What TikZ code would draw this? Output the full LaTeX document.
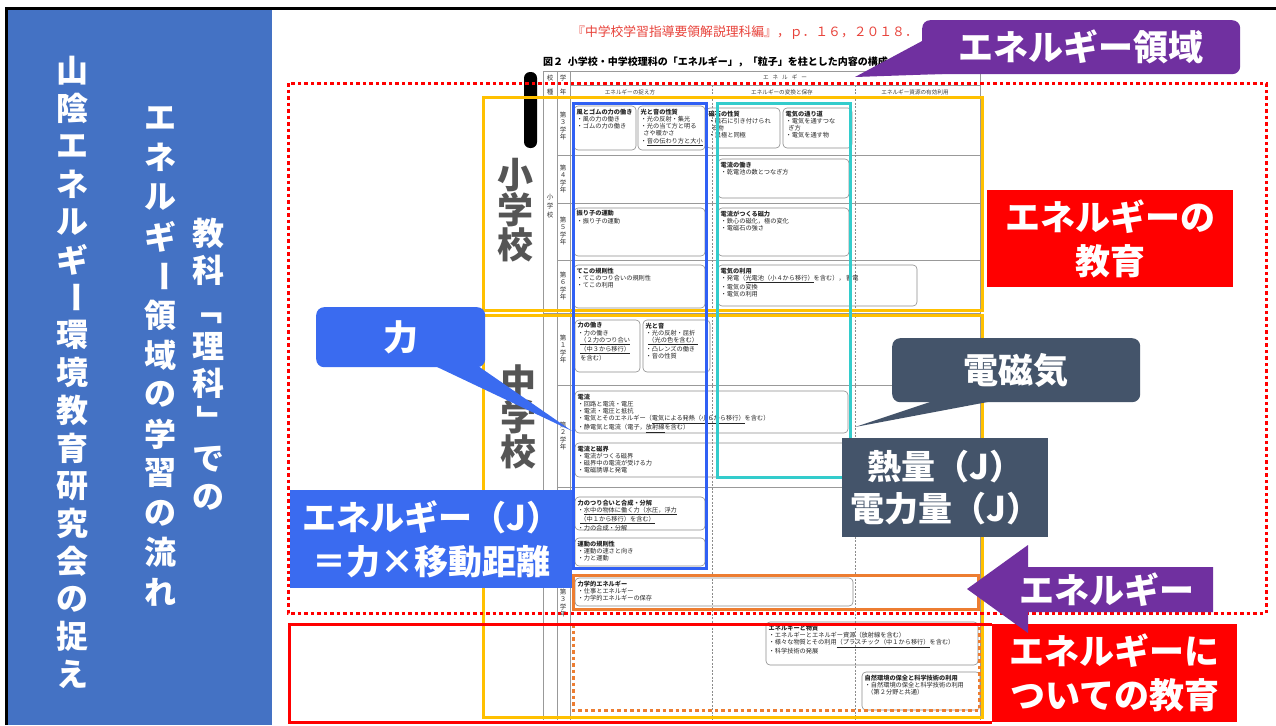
\documentclass[tikz,border=0pt]{standalone}
\usepackage{fontspec}
\setmainfont{Noto Sans CJK JP}
\usetikzlibrary{calc}
\definecolor{panelblue}{HTML}{4472C4}
\definecolor{ybox}{HTML}{FFC000}
\definecolor{bline}{HTML}{3060F4}
\definecolor{cblue}{HTML}{3A6BF0}
\definecolor{cyanl}{HTML}{33CCCC}
\definecolor{oline}{HTML}{ED7D31}
\definecolor{rline}{HTML}{FF0000}
\definecolor{purp}{HTML}{7030A0}
\definecolor{slate}{HTML}{44546A}
\definecolor{bigg}{HTML}{555555}
\definecolor{citered}{HTML}{E8423A}
\newcommand{\vbar}{\rotatebox[origin=c]{-90}{ー}}
\newcommand{\vlb}{\rotatebox[origin=c]{-90}{「}}
\newcommand{\vrb}{\rotatebox[origin=c]{-90}{」}}
\newcommand{\cellbx}[6]{\draw[cellbox] (#2,#3) rectangle (#4,#5); \node[celltext] (#1) at ({#2+2.5},{#3+2.5}) {#6};}
\tikzset{
  cellbox/.style={draw=black!45, line width=0.6pt, rounded corners=4pt},
  celltext/.style={anchor=north west, inner sep=0pt, align=left, font=\fontsize{6.2}{7.3}\selectfont, text=black!85},
  gridl/.style={draw=black!40, line width=0.6pt},
  dgridl/.style={draw=black!45, line width=0.6pt, dash pattern=on 2pt off 1.5pt},
  vch/.style={inner sep=0pt, font=\fontsize{32}{32}\selectfont\bfseries, text=white},
  smallv/.style={inner sep=0pt, font=\fontsize{6.5}{7}\selectfont, text=black!80},
  bigv/.style={inner sep=0pt, font=\fontsize{36}{36}\selectfont\bfseries, text=bigg},
  hdr/.style={inner sep=0pt, font=\fontsize{5.6}{6}\selectfont, text=black!75},
  callout/.style={inner sep=0pt, text=white, font=\fontsize{35}{44}\selectfont\bfseries, align=center, anchor=north west},
  framey/.style={draw=ybox, line width=3pt},
}
\begin{document}
\begin{tikzpicture}[x=1pt,y=-1pt]
\useasboundingbox (0,0) rectangle (1276,725);
\fill[white] (0,0) rectangle (1276,725);
% left panel
\fill[panelblue] (8,10) rectangle (272,725);
\draw[black, line width=3pt] (6,725) -- (6,8.5) -- (1276,8.5);
\foreach \ch [count=\k from 0] in {山,陰,エ,ネ,ル,ギ,\vbar,環,境,教,育,研,究,会,の,捉,え}
  {\node[vch] (ca-\k) at (72,{71+\k*37.7}) {\ch};}
\foreach \ch [count=\k from 0] in {エ,ネ,ル,ギ,\vbar,領,域,の,学,習,の,流,れ}
  {\node[vch] (cb-\k) at (160,{118+\k*39.5}) {\ch};}
\foreach \ch [count=\k from 0] in {教,科,\vlb,理,科,\vrb,で,の}
  {\node[vch] (cc-\k) at (208,{233+\k*37.7}) {\ch};}
% citation and caption
\node[inner sep=0, text=citered, font=\fontsize{12.8}{13}\selectfont] (cite) at (745,33) {『中学校学習指導要領解説理科編』，ｐ．１６，２０１８．};
\node[inner sep=0, anchor=west, font=\fontsize{10}{10}\selectfont\bfseries] (cap) at (543,62) {図２\ \ 小学校・中学校理科の「エネルギー」，「粒子」を柱とした内容の構成};
% table grid
\draw[gridl] (543,71) -- (980,71);
\draw[gridl] (543,71) -- (543,720);
\draw[gridl] (557,71) -- (557,720);
\draw[gridl] (570,71) -- (570,720);
\draw[gridl] (980,71) -- (980,720);
\draw[gridl] (570,85) -- (980,85);
\draw[gridl] (543,97) -- (980,97);
\draw[gridl] (543,313) -- (980,313);
\foreach \yy in {155,203,260,385,487} {\draw[gridl] (557,\yy) -- (980,\yy);}
\draw[dgridl] (712,85) -- (712,720);
\draw[dgridl] (855,85) -- (855,720);
\node[hdr] (h0) at (785,77) {エ\hspace{4pt}ネ\hspace{4pt}ル\hspace{4pt}ギ\hspace{4pt}ー};
\node[hdr] (h1) at (630,92) {エネルギーの捉え方};
\node[hdr] (h2) at (782,92) {エネルギーの変換と保存};
\node[hdr] (h3) at (915,92) {エネルギー資源の有効利用};
\node[smallv] (hk1) at (550,78) {校};
\node[smallv] (hk2) at (550,92) {種};
\node[smallv] (hg1) at (563,78) {学};
\node[smallv] (hg2) at (563,92) {年};
\foreach \ch [count=\k from 0] in {小,学,校} {\node[smallv] (se-\k) at (550,{197+\k*9}) {\ch};}
\foreach \cy/\g [count=\r] in {126/３,179/４,231/５,286/６,349/１,436/２,603/３}{
  \foreach \ch [count=\k from 0] in {第,\g,学,年} {\node[smallv] (gl-\r-\k) at (563,{\cy-11.25+\k*7.5}) {\ch};}
}
% big school labels
\fill[black, rounded corners=6pt] (524,72) rectangle (537,148);
\foreach \ch [count=\k from 0] in {小,学,校} {\node[bigv] (bs-\k) at (515,{175+\k*35}) {\ch};}
\foreach \ch [count=\k from 0] in {中,学,校} {\node[bigv] (bj-\k) at (518,{382+\k*35}) {\ch};}
% cells
\cellbx{c1}{574}{106}{636}{150}{\textbf{風とゴムの力の働き}\\・風の力の働き\\・ゴムの力の働き}
\cellbx{c2}{638}{106}{705}{150}{\textbf{光と音の性質}\\・光の反射・集光\\・光の当て方と明る\\\ \ さや暖かさ\\・\underline{音の伝わり方と大小}}
\cellbx{c3}{706}{108}{780}{148}{\textbf{磁石の性質}\\・磁石に引き付けられ\\\ \ る物\\・異極と同極}
\cellbx{c4}{783}{108}{852}{148}{\textbf{電気の通り道}\\・電気を通すつな\\\ \ ぎ方\\・電気を通す物}
\cellbx{c5}{718}{159}{849}{198}{\textbf{電流の働き}\\・乾電池の数とつなぎ方}
\cellbx{c6}{574}{208}{705}{256}{\textbf{振り子の運動}\\・振り子の運動}
\cellbx{c7}{718}{208}{849}{256}{\textbf{電流がつくる磁力}\\・鉄心の磁化，極の変化\\・電磁石の強さ}
\cellbx{c8}{574}{265}{705}{308}{\textbf{てこの規則性}\\・てこのつり合いの規則性\\・てこの利用}
\cellbx{c9}{718}{265}{917}{306}{\textbf{電気の利用}\\・発電（\underline{光電池（小４から移行）}を含む），\ 蓄電\\・電気の変換\\・電気の利用}
\cellbx{c10}{575}{320}{640}{372}{\textbf{力の働き}\\・力の働き\\\ \ \underline{（２力のつり合い}\\\ \ \underline{（中３から移行）}\\\ \ を含む）}
\cellbx{c11}{643}{320}{710}{372}{\textbf{光と音}\\・光の反射・屈折\\\ \ \underline{（光の色を含む）}\\・凸レンズの働き\\・音の性質}
\cellbx{c12}{575}{391}{848}{433}{\textbf{電流}\\・回路と電流・電圧\\・電流・電圧と抵抗\\・電気とそのエネルギー（\underline{電気による発熱（小６から移行）}を含む）\\・静電気と電流（電子，\underline{放射線}を含む）}
\cellbx{c13}{575}{443}{848}{477}{\textbf{電流と磁界}\\・電流がつくる磁界\\・磁界中の電流が受ける力\\・電磁誘導と発電}
\cellbx{c14}{575}{497}{705}{530}{\textbf{力のつり合いと合成・分解}\\・\underline{水中の物体に働く力（水圧，浮力}\\\ \ \underline{（中１から移行）を含む）}\\・力の合成・分解}
\cellbx{c15}{575}{538}{705}{566}{\textbf{運動の規則性}\\・運動の速さと向き\\・力と運動}
\cellbx{c16}{575}{578}{853}{606}{\textbf{力学的エネルギー}\\・仕事とエネルギー\\・力学的エネルギーの保存}
\cellbx{c17}{766}{622}{978}{665}{\textbf{エネルギーと物質}\\・エネルギーとエネルギー資源（放射線を含む）\\・様々な物質とその利用\underline{（プラスチック（中１から移行）}を含む）\\・科学技術の発展}
\cellbx{c18}{862}{672}{980}{710}{\textbf{自然環境の保全と科学技術の利用}\\・自然環境の保全と科学技術の利用\\\ \ （第２分野と共通）}
% colored frames
\draw[framey] (483,97) rectangle (982,310);
\draw[framey] (483,315) rectangle (982,717);
\draw[bline, line width=3pt] (573,103) rectangle (706,568);
\draw[cyanl, line width=3pt] (717,103) rectangle (850,477);
\draw[oline, line width=3pt] (573,575) rectangle (978,609);
\draw[oline, line width=3pt, dash pattern=on 3.5pt off 3pt] (573,624) rectangle (979,710);
\draw[rline, line width=3pt, dash pattern=on 3.5pt off 3pt] (288,83) rectangle (1266,613);
\draw[rline, line width=3pt] (992,624) -- (289,624) -- (289,722) -- (992,722);
% callouts
\node[callout, fill=rline, minimum width=246, minimum height=97] (edu) at (987,190) {エネルギーの\\教育};
\node[callout, fill=rline, minimum width=245, minimum height=98] (edu2) at (992,624) {エネルギーに\\ついての教育};
\fill[purp] (924,40) -- (855,77) -- (942,74) -- cycle;
\node[callout, fill=purp, rounded corners=8pt, minimum width=318, minimum height=54] (ryoiki) at (922,20) {エネルギー領域};
\fill[cblue] (435,366) -- (572,431) -- (478,366) -- cycle;
\node[callout, fill=cblue, rounded corners=8pt, minimum width=169, minimum height=60] (ryoku) at (316,307) {力};
\fill[slate] (933,401) -- (855,427) -- (993,401) -- cycle;
\node[callout, fill=slate, rounded corners=8pt, minimum width=248, minimum height=64] (denji) at (892,338) {電磁気};
\node[callout, fill=slate, minimum width=206, minimum height=99, font=\fontsize{34}{42}\selectfont\bfseries] (netsu) at (842,438) {熱量（J）\\電力量（J）};
\node[callout, fill=cblue, minimum width=282, minimum height=98, font=\fontsize{34}{44}\selectfont\bfseries] (jbox) at (290,490) {エネルギー（J）\\＝力×移動距離};
\fill[purp] (967,589) -- (1028,545) -- (1028,567) -- (1213,567) -- (1213,612) -- (1028,612) -- (1028,633) -- cycle;
\node[inner sep=0, text=white, font=\fontsize{35}{35}\selectfont\bfseries] (arrtxt) at (1107,590) {エネルギー};
\end{tikzpicture}
\end{document}
